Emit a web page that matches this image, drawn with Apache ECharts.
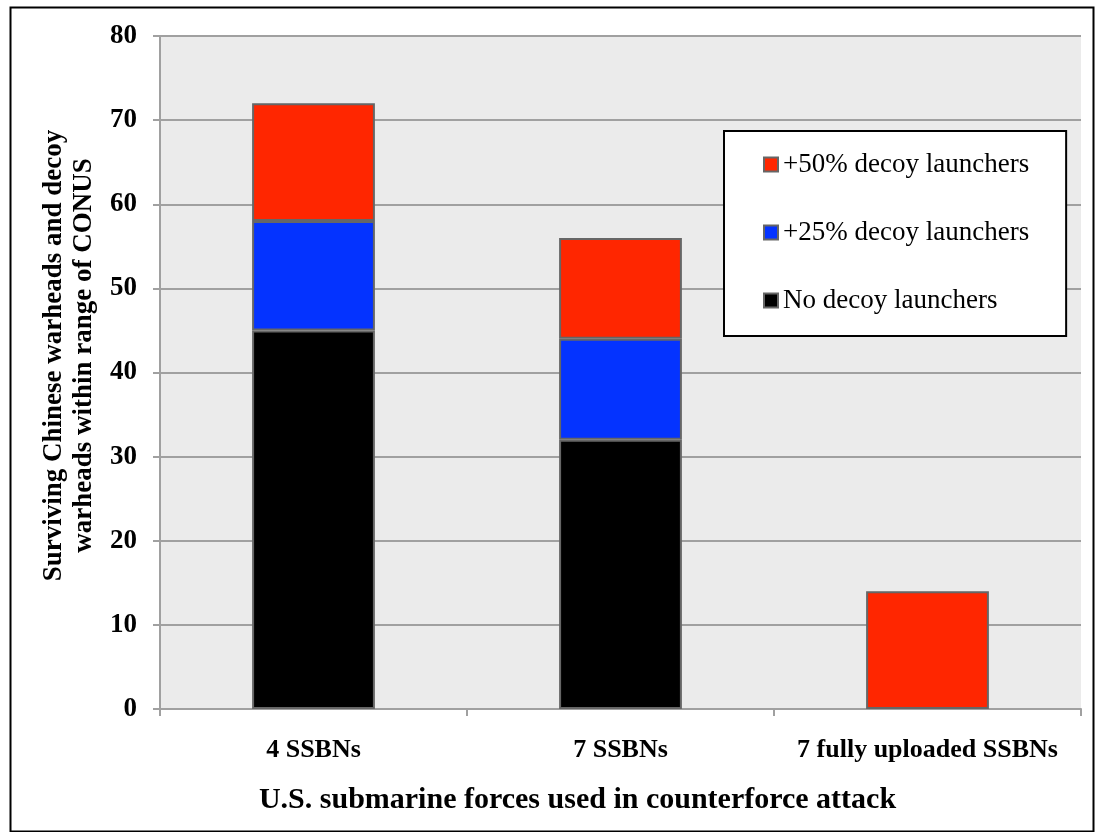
<!DOCTYPE html>
<html>
<head>
<meta charset="utf-8">
<script src="https://cdn.jsdelivr.net/npm/echarts@6/dist/echarts.min.js"></script>
<style>
html, body { margin: 0; padding: 0; background: #fff; }
#main { width: 1097px; height: 832px; }
</style>
</head>
<body>
<div id="main"></div>
<script>
// categories and stacked values
var categories = ['4 SSBNs', '7 SSBNs', '7 fully uploaded SSBNs'];
var noDecoy = [45, 32, null];
var decoy25 = [13, 12, null];
var decoy50 = [14, 12, 14];
var seriesNames = ['No decoy launchers', '+25% decoy launchers', '+50% decoy launchers'];
var seriesColors = ['#000000', '#0433ff', '#ff2600'];

var font = '"Liberation Serif", "Times New Roman", serif';
var myChart = echarts.init(document.getElementById('main'));

function makeSeries(i, data)
{
	return {
		name: seriesNames[i],
		type: 'bar',
		stack: 'total',
		barWidth: '40%',
		data: data,
		itemStyle: {
			color: seriesColors[i],
			borderColor: '#666666',
			borderWidth: 2
		},
		emphasis: { disabled: true }
	};
}

var option = {
	animation: false,
	backgroundColor: '#ffffff',
	textStyle: { fontFamily: font },
	graphic: [{
		type: 'rect',
		left: 8,
		top: 5,
		shape: { width: 1083, height: 824 },
		style: { fill: 'none', stroke: '#000000', lineWidth: 2 },
		z: -1
	}],
	grid: {
		left: 160,
		right: 16,
		top: 36,
		bottom: 123,
		show: true,
		backgroundColor: '#ebebeb',
		borderWidth: 0
	},
	legend: {
		data: ['+50% decoy launchers', '+25% decoy launchers', 'No decoy launchers'],
		orient: 'vertical',
		left: 724,
		top: 131,
		backgroundColor: '#ffffff',
		borderColor: '#000000',
		borderWidth: 2,
		borderRadius: 0,
		padding: [17, 37, 19, 39],
		itemGap: 35,
		itemWidth: 14,
		itemHeight: 14,
		icon: 'rect',
		itemStyle: { borderColor: '#666666', borderWidth: 2 },
		textStyle: {
			fontFamily: font,
			fontSize: 27,
			lineHeight: 27,
			color: '#000000',
			padding: [6, 0, 0, 0]
		},
		selectedMode: false
	},
	xAxis: {
		type: 'category',
		data: categories,
		name: 'U.S. submarine forces used in counterforce attack',
		nameLocation: 'middle',
		nameGap: 76,
		nameTextStyle: {
			fontFamily: font,
			fontSize: 30,
			fontWeight: 'bold',
			color: '#000000',
			padding: [0, 86, 0, 0]
		},
		axisLine: { lineStyle: { color: '#a0a0a0', width: 2 } },
		axisTick: { show: true, interval: 0, length: 7, lineStyle: { color: '#a0a0a0', width: 2 } },
		axisLabel: {
			interval: 0,
			hideOverlap: false,
			fontFamily: font,
			fontSize: 26,
			fontWeight: 'bold',
			color: '#000000',
			margin: 28
		}
	},
	yAxis: {
		type: 'value',
		min: 0,
		max: 80,
		interval: 10,
		name: 'Surviving Chinese warheads and decoy\nwarheads within range of CONUS',
		nameLocation: 'middle',
		nameGap: 61,
		nameTextStyle: {
			fontFamily: font,
			fontSize: 27,
			fontWeight: 'bold',
			color: '#000000',
			lineHeight: 30,
			padding: [0, 0, 0, 34]
		},
		axisLine: { show: true, lineStyle: { color: '#a0a0a0', width: 2 } },
		axisTick: { show: true, length: 7, lineStyle: { color: '#a0a0a0', width: 2 } },
		axisLabel: {
			fontFamily: font,
			fontSize: 27,
			fontWeight: 'bold',
			color: '#000000',
			margin: 23
		},
		splitLine: { lineStyle: { color: '#a0a0a0', width: 2 } }
	},
	series: [
		makeSeries(0, noDecoy),
		makeSeries(1, decoy25),
		makeSeries(2, decoy50)
	]
};

myChart.setOption(option);
window.onresize = myChart.resize;
</script>
</body>
</html>
